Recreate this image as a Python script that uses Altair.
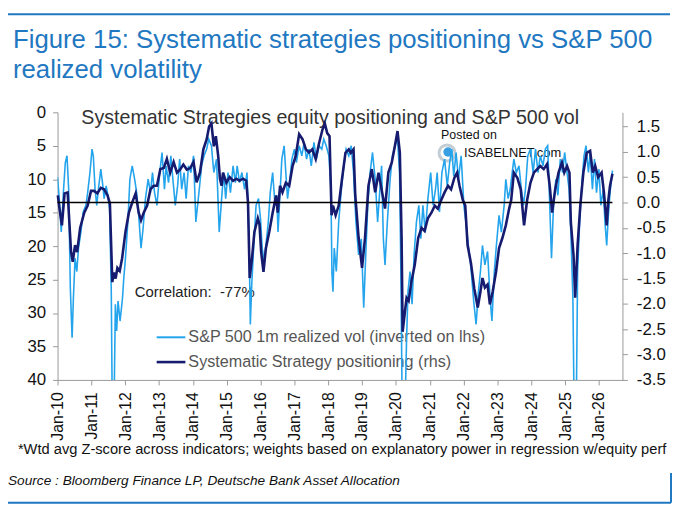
import altair as alt
import pandas as pd

# ---- data ----
vol_years = [2010.00, 2010.05, 2010.11, 2010.18, 2010.23, 2010.28, 2010.33, 2010.38, 2010.43, 2010.47,
             2010.52, 2010.57, 2010.62, 2010.69, 2010.76, 2010.84, 2010.89, 2010.96, 2011.02, 2011.06,
             2011.11, 2011.16, 2011.21, 2011.28, 2011.33, 2011.38, 2011.44, 2011.49, 2011.54, 2011.59,
             2011.62, 2011.67, 2011.71, 2011.75, 2011.79, 2011.85, 2011.92, 2011.96, 2012.01, 2012.08,
             2012.14, 2012.21, 2012.28, 2012.34, 2012.40, 2012.47, 2012.53, 2012.60, 2012.68, 2012.75,
             2012.81, 2012.87, 2012.94, 2013.02, 2013.09, 2013.16, 2013.21, 2013.28, 2013.35, 2013.41,
             2013.48, 2013.55, 2013.61, 2013.67, 2013.74, 2013.80, 2013.87, 2013.94, 2014.02, 2014.09,
             2014.19, 2014.26, 2014.33, 2014.41, 2014.47, 2014.55, 2014.62, 2014.70, 2014.78, 2014.85,
             2014.91, 2014.97, 2015.04, 2015.11, 2015.19, 2015.26, 2015.31, 2015.38, 2015.45, 2015.53,
             2015.60, 2015.66, 2015.70, 2015.74, 2015.80, 2015.87, 2015.94, 2016.00, 2016.05, 2016.11,
             2016.16, 2016.23, 2016.29, 2016.36, 2016.43, 2016.48, 2016.52, 2016.58, 2016.63, 2016.70,
             2016.75, 2016.80, 2016.87, 2016.93, 2017.00, 2017.06, 2017.14, 2017.22, 2017.29, 2017.36,
             2017.43, 2017.50, 2017.58, 2017.65, 2017.73, 2017.81, 2017.87, 2017.94, 2018.02, 2018.08,
             2018.11, 2018.14, 2018.18, 2018.24, 2018.31, 2018.39, 2018.46, 2018.53, 2018.61, 2018.68,
             2018.75, 2018.82, 2018.90, 2018.98, 2019.05, 2019.11, 2019.17, 2019.24, 2019.31, 2019.39,
             2019.46, 2019.53, 2019.58, 2019.63, 2019.68, 2019.75, 2019.83, 2019.90, 2019.97, 2020.05,
             2020.11, 2020.15, 2020.19, 2020.27, 2020.32, 2020.36, 2020.42, 2020.48, 2020.54, 2020.61,
             2020.68, 2020.74, 2020.80, 2020.87, 2020.95, 2021.03, 2021.10, 2021.17, 2021.22, 2021.29,
             2021.36, 2021.44, 2021.52, 2021.59, 2021.65, 2021.71, 2021.78, 2021.85, 2021.93, 2022.01,
             2022.07, 2022.14, 2022.22, 2022.30, 2022.37, 2022.44, 2022.50, 2022.56, 2022.63, 2022.71,
             2022.78, 2022.84, 2022.91, 2022.97, 2023.05, 2023.12, 2023.20, 2023.25, 2023.32, 2023.38,
             2023.44, 2023.49, 2023.56, 2023.64, 2023.71, 2023.77, 2023.83, 2023.90, 2023.98, 2024.06,
             2024.13, 2024.20, 2024.27, 2024.35, 2024.42, 2024.49, 2024.55, 2024.60, 2024.66, 2024.73,
             2024.79, 2024.86, 2024.93, 2024.99, 2025.06, 2025.12, 2025.17, 2025.23, 2025.27, 2025.33,
             2025.37, 2025.43, 2025.50, 2025.56, 2025.62, 2025.69, 2025.74, 2025.81, 2025.87, 2025.93,
             2026.00, 2026.06, 2026.13, 2026.18, 2026.23, 2026.28, 2026.33, 2026.40]
vol_values = [9.7, 12.9, 17.9, 11.5, 7.5, 6.5, 11.5, 26.3, 33.7, 27.8,
              21.8, 23.8, 20.3, 17.9, 14.9, 13.9, 12.0, 9.0, 5.5, 6.5,
              11.5, 13.9, 11.5, 8.5, 10.5, 12.9, 11.0, 12.4, 14.4, 26.8,
              45.0, 45.0, 28.7, 32.7, 28.2, 31.2, 27.8, 24.8, 21.8, 16.4,
              10.0, 8.0, 10.0, 12.0, 15.4, 20.3, 17.4, 12.9, 10.0, 12.0,
              9.0, 12.0, 13.9, 9.0, 6.0, 11.5, 8.0, 10.5, 6.5, 10.0,
              13.9, 11.0, 7.0, 11.5, 9.0, 12.9, 8.0, 9.0, 6.5, 16.4,
              11.5, 8.0, 6.5, 5.5, 4.0, 5.0, 9.0, 7.0, 17.9, 12.9,
              9.0, 12.9, 9.0, 12.0, 8.0, 10.5, 8.0, 10.5, 9.0, 11.5,
              9.0, 18.9, 31.7, 25.8, 19.9, 13.9, 12.9, 15.9, 20.3, 22.3,
              19.9, 16.4, 12.0, 9.0, 13.9, 12.4, 17.9, 12.0, 7.0, 5.0,
              9.0, 12.9, 10.0, 7.0, 5.5, 7.5, 5.0, 6.5, 4.5, 7.0,
              5.5, 8.0, 4.5, 7.0, 5.0, 5.5, 4.0, 5.0, 6.5, 11.5,
              24.0, 26.8, 20.3, 23.8, 16.4, 11.5, 8.0, 5.5, 6.5, 5.0,
              9.0, 16.4, 21.3, 18.9, 29.2, 21.3, 13.9, 9.0, 6.0, 10.0,
              16.4, 11.5, 8.0, 18.9, 22.8, 16.4, 10.0, 6.5, 5.0, 4.0,
              9.0, 23.8, 45.0, 45.0, 33.7, 26.8, 23.8, 28.7, 21.3, 16.4,
              13.9, 18.9, 13.9, 17.9, 12.9, 9.0, 13.9, 11.5, 9.0, 14.9,
              9.0, 7.0, 11.0, 7.5, 5.5, 9.5, 6.0, 10.0, 6.5, 13.9,
              16.4, 19.9, 23.3, 28.2, 31.7, 26.8, 23.8, 19.9, 22.8, 20.8,
              27.3, 31.2, 23.8, 19.9, 15.4, 17.9, 13.9, 10.0, 12.9, 11.5,
              9.0, 7.0, 9.0, 8.0, 11.5, 13.9, 11.5, 6.5, 5.5, 9.0,
              5.5, 9.0, 6.5, 8.0, 5.5, 5.0, 13.9, 21.8, 13.9, 10.0,
              12.4, 7.0, 9.0, 6.0, 9.0, 11.5, 17.9, 27.8, 45.0, 45.0,
              23.8, 16.4, 10.5, 6.5, 5.0, 9.0, 6.0, 11.5, 7.0, 12.0,
              8.5, 13.9, 11.5, 16.4, 19.9, 15.4, 12.0, 8.7]

pos_years = [2010.01, 2010.06, 2010.13, 2010.21, 2010.30, 2010.40, 2010.45, 2010.52, 2010.58, 2010.67,
             2010.79, 2010.89, 2010.99, 2011.08, 2011.18, 2011.28, 2011.38, 2011.48, 2011.55, 2011.62,
             2011.67, 2011.72, 2011.77, 2011.84, 2011.91, 2012.01, 2012.11, 2012.21, 2012.31, 2012.40,
             2012.47, 2012.55, 2012.65, 2012.75, 2012.84, 2012.94, 2013.04, 2013.14, 2013.23, 2013.33,
             2013.43, 2013.53, 2013.62, 2013.72, 2013.82, 2013.92, 2014.02, 2014.11, 2014.21, 2014.31,
             2014.41, 2014.48, 2014.55, 2014.62, 2014.68, 2014.75, 2014.80, 2014.85, 2014.89, 2014.99,
             2015.09, 2015.19, 2015.29, 2015.38, 2015.48, 2015.58, 2015.63, 2015.68, 2015.75, 2015.82,
             2015.92, 2015.97, 2016.02, 2016.09, 2016.16, 2016.26, 2016.36, 2016.46, 2016.51, 2016.58,
             2016.65, 2016.75, 2016.85, 2016.95, 2017.04, 2017.14, 2017.24, 2017.34, 2017.43, 2017.53,
             2017.63, 2017.73, 2017.83, 2017.90, 2017.97, 2018.04, 2018.10, 2018.14, 2018.22, 2018.31,
             2018.41, 2018.51, 2018.61, 2018.67, 2018.75, 2018.80, 2018.90, 2019.00, 2019.09, 2019.19,
             2019.29, 2019.39, 2019.49, 2019.58, 2019.68, 2019.78, 2019.88, 2019.97, 2020.05, 2020.12,
             2020.17, 2020.20, 2020.27, 2020.32, 2020.38, 2020.46, 2020.56, 2020.66, 2020.76, 2020.85,
             2020.95, 2021.05, 2021.15, 2021.24, 2021.34, 2021.44, 2021.54, 2021.63, 2021.73, 2021.81,
             2021.88, 2021.98, 2022.05, 2022.12, 2022.22, 2022.32, 2022.42, 2022.50, 2022.56, 2022.63,
             2022.71, 2022.78, 2022.86, 2022.96, 2023.05, 2023.15, 2023.25, 2023.35, 2023.41, 2023.49,
             2023.59, 2023.69, 2023.79, 2023.88, 2023.98, 2024.08, 2024.18, 2024.27, 2024.37, 2024.47,
             2024.55, 2024.62, 2024.71, 2024.81, 2024.91, 2024.98, 2025.06, 2025.13, 2025.17, 2025.25,
             2025.30, 2025.37, 2025.45, 2025.54, 2025.64, 2025.74, 2025.82, 2025.89, 2025.98, 2026.08,
             2026.15, 2026.23, 2026.28, 2026.33, 2026.40]
pos_values = [0.14, -0.12, -0.45, 0.18, 0.20, -0.98, -1.17, -0.84, -0.98, -0.50,
              -0.20, -0.06, 0.23, 0.23, 0.18, 0.29, 0.26, 0.14, -0.02, -1.57,
              -1.38, -1.50, -1.29, -1.35, -1.10, -0.58, -0.20, 0.00, 0.18, -0.20,
              -0.35, -0.20, -0.06, 0.26, 0.33, 0.33, 0.66, 0.68, 0.86, 0.59,
              0.80, 0.59, 0.65, 0.75, 0.65, 0.68, 0.80, 0.40, 0.59, 1.05,
              1.25, 1.50, 1.56, 1.11, 1.31, 0.92, 0.47, 0.33, 0.59, 0.39,
              0.50, 0.43, 0.47, 0.43, 0.47, 0.43, 0.00, -1.49, -1.10, -0.58,
              -0.31, -0.43, -0.98, -1.37, -0.90, -0.58, -0.20, 0.14, -0.20, 0.33,
              0.20, 0.39, 0.33, 0.72, 0.92, 1.35, 1.25, 1.05, 0.99, 1.05,
              0.86, 1.17, 1.44, 1.56, 1.37, 1.31, -0.25, -0.06, -0.25, -0.06,
              0.47, 0.98, 1.05, 0.98, 1.05, 0.14, -0.70, -1.29, -0.70, 0.33,
              0.66, 0.20, 0.59, 0.26, -0.12, 0.59, 0.79, 1.11, 1.41, 0.98,
              -0.70, -2.55, -2.15, -1.88, -1.94, -1.56, -1.23, -0.70, -0.50, -0.56,
              -0.31, -0.20, -0.06, -0.12, 0.05, 0.20, 0.33, 0.26, 0.49, 0.59,
              0.33, 0.05, -0.06, -0.84, -1.20, -1.70, -2.07, -1.76, -1.49, -1.68,
              -1.62, -2.01, -1.76, -1.37, -0.90, -0.70, -0.45, -0.12, 0.05, 0.59,
              0.49, 0.26, -0.45, 0.05, 0.39, 0.59, 0.66, 0.72, 0.66, 0.76,
              0.33, -0.20, 0.26, 0.59, 0.79, 0.59, 0.72, 0.59, -0.39, -1.04,
              -1.88, -0.84, -0.06, 0.59, 0.98, 1.02, 0.59, 0.72, 0.50, 0.59,
              0.20, -0.45, 0.05, 0.33, 0.57]

vol_ticks = [0, 5, 10, 15, 20, 25, 30, 35, 40]
pos_ticks = [-3.5, -3.0, -2.5, -2.0, -1.5, -1.0, -0.5, 0.0, 0.5, 1.0, 1.5]
year_ticks = list(range(2010, 2027))

LIGHT = "#23a4ec"
NAVY = "#161b6f"
BLUE = "#1f78c1"
FONT = "Liberation Sans"


def to_date(y):
    yr = int(y)
    d = pd.Timestamp(yr, 1, 1) + pd.Timedelta(days=(y - yr) * 365.25)
    return d.strftime("%Y-%m-%d")


vol_df = pd.DataFrame({"date": [to_date(y) for y in vol_years], "vol": vol_values})
pos_df = pd.DataFrame({"date": [to_date(y) for y in pos_years], "pos": pos_values})
zero_df = pd.DataFrame({"date": [to_date(vol_years[0])], "end": [to_date(pos_years[-1])], "pos": [0.0]})

x_scale = alt.Scale(type="utc", domain=[alt.DateTime(year=2010, month=1, date=1, utc=True),
                                        alt.DateTime(year=2026, month=9, date=12, utc=True)])
x_axis = alt.Axis(values=[alt.DateTime(year=y, month=1, date=1, utc=True) for y in year_ticks],
                  format="%b-%y", labelAngle=-90, labelFontSize=16, labelPadding=7,
                  tickSize=5, domainColor="#999", tickColor="#999", labelColor="#111",
                  labelFont=FONT, grid=False, title=None)
x_enc = alt.X("date:T", scale=x_scale, axis=x_axis)

vol_line = alt.Chart(vol_df).mark_line(color=LIGHT, strokeWidth=1.6, clip=True).encode(
    x=x_enc,
    y=alt.Y("vol:Q", scale=alt.Scale(domain=[0, 40], reverse=True, nice=False, zero=False),
            axis=alt.Axis(orient="left", values=vol_ticks, labelFontSize=17, labelPadding=7,
                          tickSize=5, domainColor="#999", tickColor="#999", labelColor="#111",
                          labelFont=FONT, grid=False, title=None)),
)

pos_axis = alt.Axis(orient="right", values=pos_ticks, labelFontSize=17, labelPadding=9,
                    tickSize=5, domainColor="#999", tickColor="#999", labelColor="#111",
                    labelFont=FONT, grid=False, title=None,
                    labelExpr="(datum.value < 0 ? '-' : '') + format(abs(datum.value), '.1f')")
pos_scale = alt.Scale(domain=[-3.5, 1.78], nice=False, zero=False)

pos_line = alt.Chart(pos_df).mark_line(color=NAVY, strokeWidth=2.6).encode(
    x=x_enc,
    y=alt.Y("pos:Q", scale=pos_scale, axis=pos_axis),
)
zero_rule = alt.Chart(zero_df).mark_rule(color="#000000", strokeWidth=1.6).encode(
    x=x_enc,
    x2="end:T",
    y=alt.Y("pos:Q", scale=pos_scale, axis=pos_axis),
)
pos_layer = alt.layer(pos_line, zero_rule)


def label(text, x, y, size, color="#111", style="normal", align="left", font=FONT):
    return alt.Chart(pd.DataFrame({"t": [text]})).mark_text(
        align=align, baseline="middle", fontSize=size, color=color, font=font, fontStyle=style
    ).encode(x=alt.value(x), y=alt.value(y), text="t:N")


def hline(x1, x2, y, color, width):
    return alt.Chart(pd.DataFrame({"a": [0]})).mark_rule(color=color, strokeWidth=width).encode(
        x=alt.value(x1), x2=alt.value(x2), y=alt.value(y))


def vline(x, y1, y2, color, width):
    return alt.Chart(pd.DataFrame({"a": [0]})).mark_rule(color=color, strokeWidth=width).encode(
        x=alt.value(x), y=alt.value(y1), y2=alt.value(y2))


logo_outer = alt.Chart(pd.DataFrame({"a": [0]})).mark_point(
    shape="circle", size=260, filled=False, color="#aab8c2", strokeWidth=3
).encode(x=alt.value(393), y=alt.value(41))
logo_inner = alt.Chart(pd.DataFrame({"a": [0]})).mark_point(
    shape="circle", size=90, filled=True, color="#3a9fe2", opacity=1
).encode(x=alt.value(394), y=alt.value(40))

NB = "\u00a0"
annotations = [
    hline(-52, 618, -99, BLUE, 2),
    vline(-52, -99, -28, BLUE, 2),
    hline(-52, 619, 394, BLUE, 2),
    vline(619, 364, 394, BLUE, 2),
    label("Figure 15: Systematic strategies positioning vs S&P 500", -45, -73, 26, BLUE),
    label("realized volatility", -45, -43, 26, BLUE),
    label("Systematic Strategies equity positioning and S&P 500 vol", 24, 6, 19.8, "#333"),
    label("Posted on", 387, 23, 12.5, "#111"),
    label("ISABELNET.com", 410, 41, 13, "#111"),
    logo_outer,
    logo_inner,
    label("Correlation:" + NB + NB + "-77%", 78, 181, 15, "#222"),
    hline(100, 129, 227, LIGHT, 2),
    label("S&P 500 1m realized vol (inverted on lhs)", 132, 227, 16.3, "#555"),
    hline(100, 129, 252, NAVY, 2.6),
    label("Systematic Strategy positioning (rhs)", 132, 252, 16.3, "#555"),
    label("*Wtd avg Z-score across indicators; weights based on explanatory power in regression w/equity perf",
          -40, 341, 14.8, "#111"),
    label("Source : Bloomberg Finance LP, Deutsche Bank Asset Allocation", -50, 372, 13.8, "#111", style="italic"),
]

data_layer = alt.layer(vol_line, pos_layer).resolve_scale(y="independent")

chart = alt.layer(*annotations, data_layer).properties(
    width=570, height=270,
    autosize=alt.AutoSizeParams(type="none"),
    padding={"left": 50, "top": 103, "right": 50, "bottom": 130},
    background="white",
).configure_view(stroke=None)

chart.save("out.html", embed_options={"renderer": "svg", "actions": False})
